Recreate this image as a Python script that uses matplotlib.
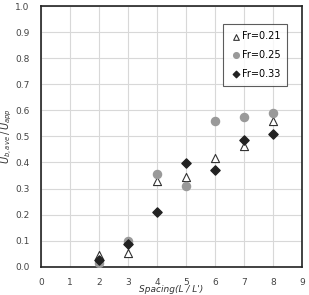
import matplotlib
matplotlib.use("Agg")
import matplotlib.pyplot as plt

spacing = [2, 3, 4, 5, 6, 7, 8]
fr021 = [0.046, 0.051, 0.328, 0.345, 0.416, 0.465, 0.560]
fr025 = [0.014, 0.100, 0.355, 0.311, 0.560, 0.574, 0.590]
fr033 = [0.026, 0.088, 0.208, 0.399, 0.373, 0.485, 0.508]
xticks = list(range(0, 10))
yticks = [i / 10 for i in range(0, 11)]

fig = plt.figure(figsize=(3.09, 2.95), dpi=100)
ax = fig.add_axes([0.132, 0.096, 0.846, 0.883])

ax.scatter(spacing, fr021, marker='^', s=34, facecolors='white', edgecolors='#333333',
           linewidths=0.8, label='Fr=0.21', zorder=3)
ax.scatter(spacing, fr025, marker='o', s=34, color='#999999', label='Fr=0.25', zorder=3)
ax.scatter(spacing, fr033, marker='D', s=22, color='#222222', label='Fr=0.33', zorder=4)

ax.set_xlim(0, 9)
ax.set_ylim(0, 1.0)
ax.set_xticks(xticks)
ax.set_yticks(yticks)
ax.set_xticklabels([str(t) for t in xticks], fontsize=6.5, color='#444444')
ax.set_yticklabels([f"{t:.1f}" for t in yticks], fontsize=6.5, color='#444444')
ax.tick_params(axis='x', length=0, pad=8)
ax.tick_params(axis='y', length=0, pad=8)
ax.grid(True, color='#d8d8d8', linewidth=0.8)
ax.set_axisbelow(True)
for s in ax.spines.values():
    s.set_linewidth(1.2)
    s.set_color('#222222')

ax.set_ylabel(r'$U_{b,ave}\,/\,U_{app}$', fontsize=7, color='#333333', labelpad=1)
ax.set_xlabel("Spacing(L / L')", fontsize=6.5, style='italic', color='#333333', labelpad=-1)

leg = ax.legend(loc='upper right', bbox_to_anchor=(0.943, 0.93), fontsize=7,
                frameon=True, fancybox=False, edgecolor='#333333', handletextpad=0.0,
                labelspacing=0.9, borderpad=0.7, borderaxespad=0, handlelength=1.2,
                markerscale=0.7)
leg.get_frame().set_linewidth(0.8)

fig.savefig('out.png', dpi=100)
